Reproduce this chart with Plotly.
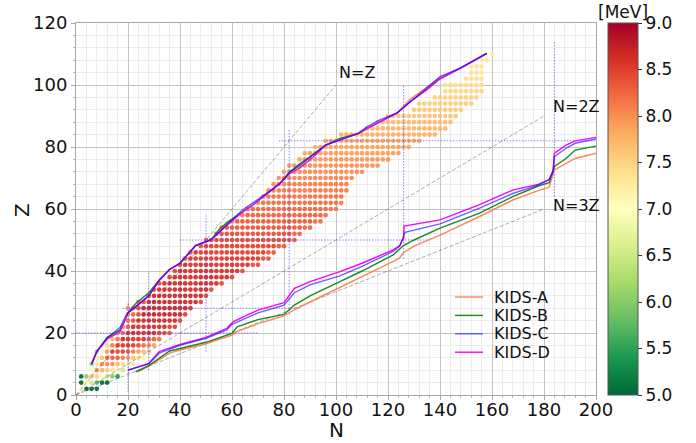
import plotly.graph_objects as go

# ---------------- data ----------------
# even-even nuclei: runs of equal binding energy per nucleon (MeV), per proton number Z
seg_z = [2, 2, 2,
         4, 4, 4, 4, 4,
         6, 6, 6, 6, 6, 6, 6, 6,
         8, 8, 8, 8, 8, 8, 8,
         10, 10, 10, 10, 10, 10, 10, 10,
         12, 12, 12, 12, 12, 12, 12, 12,
         14, 14, 14, 14, 14, 14, 14, 14, 14,
         16, 16, 16, 16, 16, 16, 16, 16,
         18, 18, 18, 18, 18, 18, 18,
         20, 20, 20, 20, 20, 20, 20,
         22, 22, 22, 22,
         24, 24, 24, 24,
         26, 26, 26, 26, 26,
         28, 28, 28, 28, 28,
         30, 30, 30, 30,
         32, 32, 32, 34, 34, 34, 36, 36, 36, 38, 38, 38, 40, 40, 40,
         42, 42, 42, 44, 44, 44, 46, 46, 46, 48, 48, 48, 50, 50, 50,
         52, 52, 52, 54, 54, 54, 56, 56, 56, 58, 58, 58, 60, 60, 60, 62, 62, 62,
         64, 64, 66, 66, 68, 68, 70, 70, 72, 72, 74, 74, 76, 76, 78, 78, 80, 80, 82, 82,
         84, 86, 88, 90, 92, 94, 96, 98, 100, 102, 104, 106, 108, 110]
seg_n0 = [2, 4, 6,
          2, 4, 6, 8, 10,
          2, 4, 6, 8, 10, 12, 14, 16,
          6, 8, 10, 12, 14, 16, 18,
          6, 8, 10, 14, 16, 18, 20, 22,
          8, 10, 12, 18, 20, 22, 24, 26,
          8, 10, 12, 14, 20, 22, 24, 26, 28,
          10, 12, 14, 16, 24, 26, 28, 30,
          12, 14, 16, 18, 28, 30, 32,
          16, 18, 20, 22, 32, 34, 36,
          18, 20, 22, 36,
          20, 22, 24, 40,
          20, 22, 24, 26, 42,
          20, 22, 24, 26, 44,
          24, 26, 28, 48,
          28, 30, 50, 30, 32, 52, 32, 34, 56, 36, 38, 60, 38, 40, 64,
          40, 42, 68, 42, 44, 72, 44, 46, 74, 48, 50, 78, 50, 52, 82,
          54, 56, 84, 56, 58, 88, 60, 62, 92, 64, 66, 96, 66, 68, 98, 70, 72, 102,
          72, 74, 74, 76, 76, 78, 78, 80, 80, 82, 82, 84, 86, 88, 88, 90, 92, 94, 96, 98,
          102, 112, 116, 120, 130, 132, 138, 142, 142, 150, 152, 152, 156, 160]
seg_n1 = [2, 4, 8,
          2, 4, 6, 8, 12,
          2, 4, 6, 8, 10, 12, 14, 16,
          6, 8, 10, 12, 14, 16, 18,
          6, 8, 12, 14, 16, 18, 20, 22,
          8, 10, 16, 18, 20, 22, 24, 26,
          8, 10, 12, 18, 20, 22, 24, 26, 28,
          10, 12, 14, 22, 24, 26, 28, 30,
          12, 14, 16, 26, 28, 30, 32,
          16, 18, 20, 30, 32, 34, 36,
          18, 20, 34, 38,
          20, 22, 38, 40,
          20, 22, 24, 40, 42,
          20, 22, 24, 42, 44,
          24, 26, 46, 48,
          28, 48, 50, 30, 50, 52, 32, 54, 56, 36, 58, 60, 38, 62, 64,
          40, 66, 70, 42, 70, 74, 44, 72, 76, 48, 76, 80, 50, 80, 84,
          54, 82, 86, 56, 86, 90, 60, 90, 94, 64, 94, 96, 66, 96, 100, 70, 100, 102,
          72, 102, 74, 104, 76, 104, 78, 106, 80, 110, 82, 116, 86, 120, 88, 124, 92, 128, 96, 132,
          138, 142, 144, 146, 148, 152, 154, 156, 156, 156, 156, 156, 158, 160]
seg_ba = [7.07, 4.9, 4.0,
          4.5, 7.06, 6.5, 5.7, 4.9,
          3.1, 6.03, 7.68, 7.52, 6.92, 6.43, 5.96, 5.42,
          7.05, 7.98, 7.77, 7.57, 7.36, 7.04, 6.5,
          6.1, 7.34, 8.05, 7.99, 7.75, 7.4, 7.05, 6.7,
          6.7, 7.66, 8.3, 8.1, 7.9, 7.65, 7.4, 7.15,
          6.1, 7.2, 7.92, 8.48, 8.34, 8.12, 7.9, 7.7, 7.5,
          6.8, 7.5, 8.12, 8.55, 8.4, 8.23, 8.06, 7.9,
          7.0, 7.7, 8.2, 8.58, 8.4, 8.3, 8.2,
          8.0, 8.24, 8.55, 8.65, 8.55, 8.47, 8.38,
          8.0, 8.3, 8.65, 8.48,
          8.15, 8.4, 8.68, 8.47,
          8.0, 8.25, 8.45, 8.72, 8.5,
          7.9, 8.2, 8.4, 8.7, 8.56,
          8.25, 8.42, 8.68, 8.45,
          8.45, 8.68, 8.45, 8.42, 8.66, 8.45, 8.4, 8.65, 8.45, 8.5, 8.65, 8.45, 8.5, 8.62, 8.45,
          8.45, 8.58, 8.42, 8.4, 8.55, 8.4, 8.35, 8.52, 8.38, 8.3, 8.48, 8.35, 8.25, 8.45, 8.33,
          8.25, 8.4, 8.3, 8.2, 8.37, 8.27, 8.15, 8.34, 8.23, 8.12, 8.3, 8.2, 8.1, 8.26, 8.17, 8.05, 8.22, 8.13,
          8.02, 8.18, 8.0, 8.14, 7.98, 8.1, 7.95, 8.06, 7.92, 8.03, 7.9, 7.99, 7.88, 7.95, 7.85, 7.91, 7.83, 7.88, 7.8, 7.85,
          7.8, 7.75, 7.7, 7.65, 7.6, 7.56, 7.52, 7.48, 7.44, 7.4, 7.37, 7.33, 7.3, 7.27]

# proton drip lines (upper curves)
p_n = [6, 8, 12, 17, 19, 20, 23, 28, 32, 36, 40, 46, 52, 55, 58, 64, 68, 75, 78.5, 82.3, 86, 91,
       96, 101.5, 108.6, 112, 117, 123.4, 128.5, 135, 140, 148, 158]
p_z_A = [10, 14, 18.5, 21, 24.5, 26.5, 28.5, 32, 37, 40.5, 42.5, 48.2, 50.1, 52.5, 54.8, 59, 61.3, 66,
         68.3, 72, 74, 77.4, 80.6, 82.3, 84.4, 86, 88.2, 90.9, 95.4, 99.4, 102.3, 105.5, 110.2]
p_z_B = [10, 14, 18.5, 21, 24.5, 26.5, 29.5, 33, 37, 40.5, 42.5, 48.2, 50.1, 53.3, 55.6, 59, 61.3, 66,
         68.3, 72, 74, 77.4, 80.6, 82.8, 84.4, 86, 88.2, 90.9, 94.6, 98.6, 102, 105.5, 110.2]
p_z_C = [10, 14, 18.5, 21.8, 25.3, 26.5, 28.5, 32, 37, 40.5, 42.5, 48.2, 50.1, 52.5, 54.8, 59.7, 62, 66,
         68.3, 72, 74.6, 77.4, 80.6, 82.3, 84.4, 86.6, 88.8, 90.9, 94.6, 99.3, 102.7, 105.5, 110.2]
p_z_D = [10, 14, 18, 20.5, 24.5, 26.5, 28.5, 32, 37, 40.5, 42.5, 48.2, 50.1, 52.5, 54.8, 59, 61.3, 66,
         68.3, 71.5, 73.2, 76.6, 80.6, 82.3, 84.4, 86, 88.2, 90.9, 94.6, 98.6, 102, 105.5, 110.2]

# neutron drip lines (lower curves)
n_n_A = [24, 28, 36, 40, 50, 60, 62, 70, 80, 84, 90, 101.5, 110, 117, 123, 124.5, 126, 130, 140,
         155, 168, 178, 182, 184, 188.5, 192, 200]
n_z_A = [7.5, 9.3, 13.5, 14.5, 16.5, 19.3, 20.5, 23, 25.5, 27.5, 30, 34.7, 38, 41, 43.5, 44.2, 46, 48,
         51.6, 57.5, 62.9, 66, 67, 72.6, 74.7, 76.3, 78]
n_n_B = [23, 28, 36, 40, 50, 60, 62, 70, 80, 84, 90, 101.5, 110, 122, 126, 130, 140, 155, 168, 178,
         182, 184, 188.5, 192, 200]
n_z_B = [7.5, 9.5, 14.2, 15, 17, 19.9, 22, 24.3, 26, 29, 32, 36.6, 40, 45.2, 48.2, 50, 53.8, 58.6,
         64, 67.5, 68.5, 73.7, 76.3, 79, 80.3]
n_n_C = [20, 28, 32, 40, 50, 58, 60, 70, 80, 82, 84, 90, 101.5, 110, 122, 124.5, 126, 126.5, 140,
         155, 168, 178, 182, 183.5, 184, 188.5, 192, 200]
n_z_C = [8, 10, 13.5, 16, 18.3, 21, 22.8, 26.5, 29, 31, 33, 35.5, 38.4, 41.5, 46.3, 48, 51, 52.5,
         55.2, 60.2, 65, 67.8, 69.5, 72, 76.9, 79.6, 81.2, 82.6]
n_n_D = [20, 28, 32, 40, 50, 58, 60.5, 70, 80, 82, 84, 90, 101.5, 110, 122, 124.5, 126, 126.2, 140,
         155, 168, 178, 182, 183.5, 184, 188.5, 192, 200]
n_z_D = [8, 10.2, 14, 16.3, 18.6, 21.5, 23.7, 27.4, 29.8, 32.3, 34.4, 36.6, 39.8, 42.5, 46.8, 48.2,
         50.5, 54.5, 56.5, 61.3, 66.1, 68, 69.5, 72.5, 78, 80.6, 82, 83.1]

# reference lines N = kZ
ref_labels = ["N=Z", "N=2Z", "N=3Z"]
ref_n_end = [100, 180, 180]
ref_z_end = [100, 90, 60]
ref_label_n = [100.3, 182.6, 182.6]
ref_label_z = [104, 93, 61]

# magic-number guide lines
mag_h_z = [20, 28, 50, 82]
mag_h_n0 = [0, 18, 40, 78]
mag_h_n1 = [70, 86, 136, 200]
mag_v_n = [20, 28, 50, 82, 126, 184]
mag_v_z0 = [1, 8, 14, 26, 44, 64]
mag_v_z1 = [30, 40, 58, 86, 100, 114]

models = ["KIDS-A", "KIDS-B", "KIDS-C", "KIDS-D"]
model_colors = ["rgba(255,127,80,0.95)", "rgba(30,135,30,1)", "rgba(0,0,255,0.6)", "rgba(255,0,255,1)"]

cbar_ticks = [5.0, 5.5, 6.0, 6.5, 7.0, 7.5, 8.0, 8.5, 9.0]

# ---------------- build ----------------
pts_n, pts_z, pts_c = [], [], []
for z, a, b, v in zip(seg_z, seg_n0, seg_n1, seg_ba):
    for n in range(a, b + 1, 2):
        pts_n.append(n)
        pts_z.append(z)
        pts_c.append(v)

rdylgn_r = [
    [0.0, "rgb(0,104,55)"], [0.1, "rgb(26,152,80)"], [0.2, "rgb(102,189,99)"],
    [0.3, "rgb(166,217,106)"], [0.4, "rgb(217,239,139)"], [0.5, "rgb(255,255,191)"],
    [0.6, "rgb(254,224,139)"], [0.7, "rgb(253,174,97)"], [0.8, "rgb(244,109,67)"],
    [0.9, "rgb(215,48,39)"], [1.0, "rgb(165,0,38)"],
]

FONT = "DejaVu Sans"
L, R, T, B = 76, 100, 23, 48
W, H = 696, 443
PW, PH = W - L - R, H - T - B


def px(x):
    return (x - L) / PW


def py(y):
    return (H - B - y) / PH


fig = go.Figure()

fig.add_trace(go.Scatter(
    x=pts_n, y=pts_z, mode="markers", showlegend=False, hoverinfo="skip",
    marker=dict(size=4.7, color=pts_c, cmin=5, cmax=9, colorscale=rdylgn_r, opacity=0.92,
                line=dict(width=0),
                colorbar=dict(x=px(608), xanchor="left", xpad=0, ypad=0, y=0.5, yanchor="middle",
                              len=1, lenmode="fraction", thickness=30, thicknessmode="pixels",
                              outlinewidth=1, outlinecolor="#555",
                              tickvals=cbar_ticks, ticktext=[f"{t:.1f}" for t in cbar_ticks],
                              ticks="outside", ticklen=4, tickcolor="#333",
                              tickfont=dict(family=FONT, size=17, color="#111"))),
))

# reference dashed lines
for ne, ze in zip(ref_n_end, ref_z_end):
    fig.add_trace(go.Scatter(x=[0, ne], y=[0, ze], mode="lines", showlegend=False, hoverinfo="skip",
                             line=dict(color="rgba(40,40,40,0.55)", width=0.7, dash="4px,2px")))

# magic lines
mx, my = [], []
for z, a, b in zip(mag_h_z, mag_h_n0, mag_h_n1):
    mx += [a, b, None]
    my += [z, z, None]
for n, a, b in zip(mag_v_n, mag_v_z0, mag_v_z1):
    mx += [n, n, None]
    my += [a, b, None]
fig.add_trace(go.Scatter(x=mx, y=my, mode="lines", showlegend=False, hoverinfo="skip",
                         line=dict(color="rgba(60,60,255,0.7)", width=0.9, dash="1.5px,1.5px")))

drip = {
    "KIDS-A": (p_z_A, n_n_A, n_z_A),
    "KIDS-B": (p_z_B, n_n_B, n_z_B),
    "KIDS-C": (p_z_C, n_n_C, n_z_C),
    "KIDS-D": (p_z_D, n_n_D, n_z_D),
}
draw_order = ["KIDS-A", "KIDS-B", "KIDS-D", "KIDS-C"]
for name in draw_order:
    i = models.index(name)
    pz, nn, nz = drip[name]
    col = model_colors[i]
    fig.add_trace(go.Scatter(x=nn, y=nz, mode="lines", name=name, showlegend=False,
                             line=dict(color=col, width=1.4), hoverinfo="skip"))
    fig.add_trace(go.Scatter(x=p_n, y=pz, mode="lines", showlegend=False,
                             line=dict(color=col, width=1.4), hoverinfo="skip"))

annotations = []
shapes = []
# legend (drawn by hand for matplotlib-like spacing)
for i, (name, col) in enumerate(zip(models, model_colors)):
    yy = 297 + 18.4 * i
    shapes.append(dict(type="line", xref="paper", yref="paper", x0=px(455), x1=px(483),
                       y0=py(yy), y1=py(yy), line=dict(color=col, width=1.4)))
    annotations.append(dict(x=px(492), y=py(yy), xref="paper", yref="paper", text=name,
                            showarrow=False, xanchor="left", yanchor="middle",
                            font=dict(family=FONT, size=16, color="#111")))

for lab, xn, yz in zip(ref_labels, ref_label_n, ref_label_z):
    annotations.append(dict(x=xn, y=yz, xref="x", yref="y", text=lab, showarrow=False,
                            xanchor="left", yanchor="middle",
                            font=dict(family=FONT, size=16, color="#111")))
annotations.append(dict(x=px(336), y=py(430), xref="paper", yref="paper", text="N", showarrow=False,
                        xanchor="center", yanchor="middle", font=dict(family=FONT, size=20, color="#111")))
annotations.append(dict(x=px(22), y=py(210), xref="paper", yref="paper", text="Z", showarrow=False,
                        textangle=-90, xanchor="center", yanchor="middle",
                        font=dict(family=FONT, size=20, color="#111")))
annotations.append(dict(x=px(623), y=py(24), xref="paper", yref="paper", text="[MeV]", showarrow=False,
                        xanchor="center", yanchor="bottom", font=dict(family=FONT, size=17, color="#111")))

axis_common = dict(
    showgrid=True, gridcolor="#c4c4c4", gridwidth=1,
    showline=True, linecolor="#a8a8a8", linewidth=1, mirror=True,
    ticks="outside", ticklen=4, tickcolor="#a8a8a8",
    tickfont=dict(family=FONT, size=18, color="#111"),
    zeroline=False,
    minor=dict(dtick=4, showgrid=True, gridcolor="#ececec", gridwidth=1,
               ticks="outside", ticklen=2, tickcolor="#b8b8b8"),
)

fig.update_layout(
    width=W, height=H,
    margin=dict(l=L, r=R, t=T, b=B),
    paper_bgcolor="white", plot_bgcolor="white",
    font=dict(family=FONT, color="#111"),
    xaxis=dict(range=[0, 200], tick0=0, dtick=20, ticklabelstandoff=-6, **axis_common),
    yaxis=dict(range=[0, 120], tick0=0, dtick=20, **axis_common),
    showlegend=False,
    annotations=annotations,
    shapes=shapes,
)

fig.write_html("out.html", post_script="document.body.style.margin='0';",
               config={"displayModeBar": False})
